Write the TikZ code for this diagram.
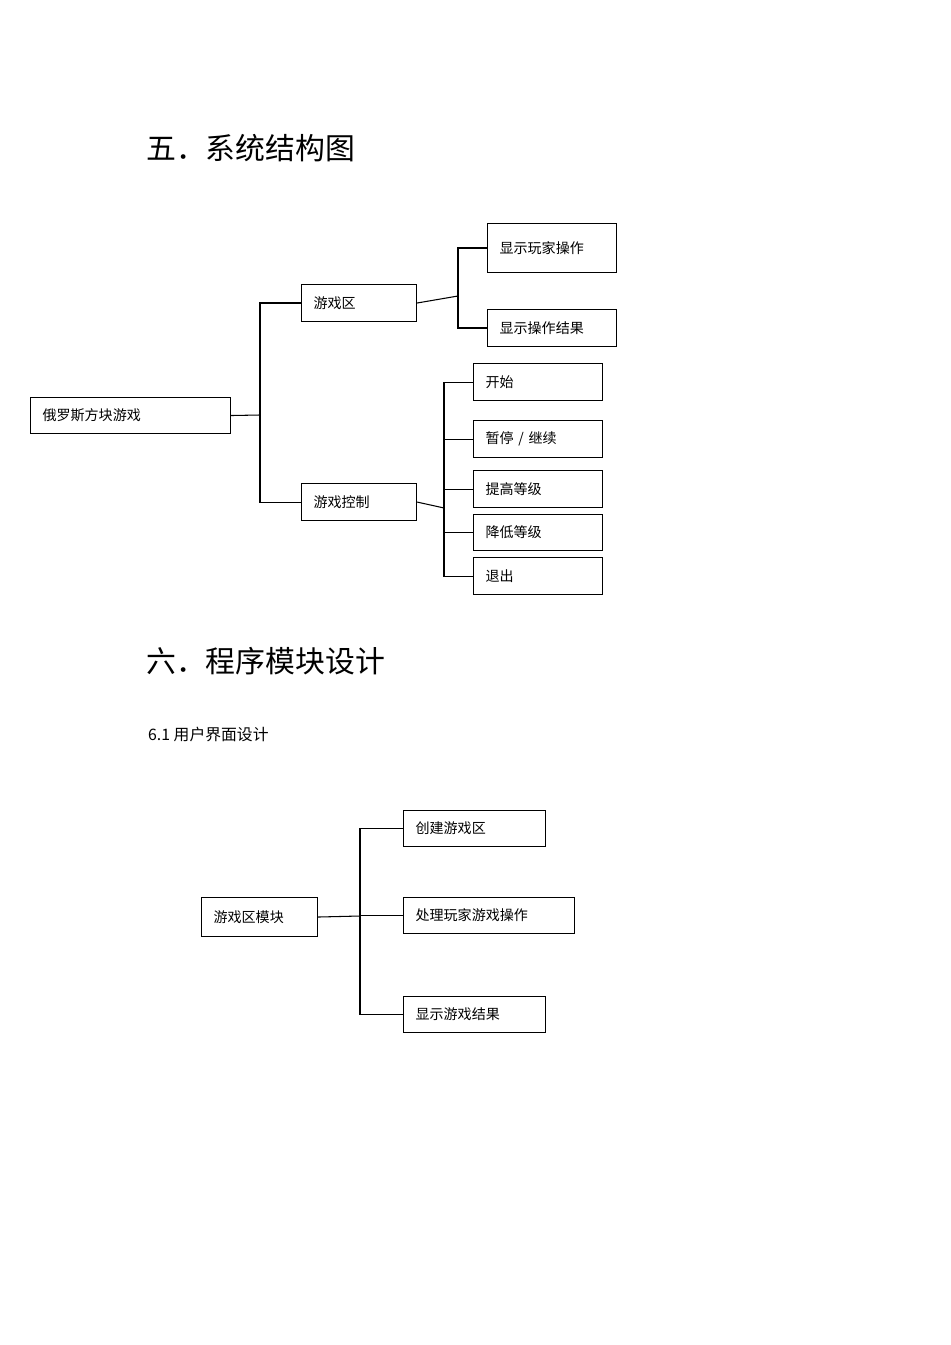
\documentclass[tikz,border=0pt]{standalone}
\usepackage{fontspec}
\setmainfont{Liberation Serif}
\newfontfamily\cjk{Noto Sans CJK SC}
\usetikzlibrary{positioning}
\tikzset{
  box/.style args={#1/#2}{draw, semithick, anchor=north west, inner xsep=0.24cm,
    inner ysep=0pt, text width=#1, minimum height=#2, font=\cjk\fontsize{8}{9}\selectfont},
  link/.style={draw, semithick}
}
\begin{document}
\begin{tikzpicture}[x=0.02cm, y=-0.02cm]
\useasboundingbox (0,0) rectangle (950,1345);
%Titles
\node[anchor=west, font=\cjk\fontsize{17}{20}\selectfont] (t5) at (140,148) {五．系统结构图};
\node[anchor=west, font=\cjk\fontsize{17}{20}\selectfont] (t6) at (140,661) {六．程序模块设计};
\node[anchor=west, font=\cjk\fontsize{9}{11}\selectfont] (t61) at (142,734) {6.1 用户界面设计};
%Structure chart
\node[box=3.52cm/0.72cm] (game) at (30,397) {俄罗斯方块游戏};
\node[box=1.82cm/0.74cm] (area) at (301,284) {游戏区};
\node[box=1.82cm/0.74cm] (ctrl) at (301,483) {游戏控制};
\node[box=2.1cm/0.98cm] (show) at (487,223) {显示玩家操作};
\node[box=2.1cm/0.74cm] (result) at (487,309) {显示操作结果};
\node[box=2.1cm/0.74cm] (start) at (473,363) {开始};
\node[box=2.1cm/0.74cm] (pause) at (473,420) {暂停 / 继续};
\node[box=2.1cm/0.74cm] (up) at (473,470) {提高等级};
\node[box=2.1cm/0.72cm] (down) at (473,514) {降低等级};
\node[box=2.1cm/0.74cm] (quit) at (473,557) {退出};
%Connectors
\coordinate (j1) at (260,415);
\draw[link] (game.east) -- (j1);
\draw[link] (j1) |- (area.west);
\draw[link] (j1) |- (ctrl.west);
\coordinate (j2) at (458,296);
\draw[link] (area.east) -- (j2);
\draw[link] (j2) |- (show.west);
\draw[link] (j2) |- (result.west);
\coordinate (j3) at (444,508);
\draw[link] (ctrl.east) -- (j3);
\foreach \n in {start,pause,up,down,quit}
  \draw[link] (j3) |- (\n.west);
%Module chart
\node[box=1.84cm/0.78cm] (mod) at (201,897) {游戏区模块};
\node[box=2.36cm/0.72cm] (create) at (403,810) {创建游戏区};
\node[box=2.94cm/0.72cm] (handle) at (403,897) {处理玩家游戏操作};
\node[box=2.36cm/0.72cm] (disp) at (403,996) {显示游戏结果};
\coordinate (j4) at (360,916);
\draw[link] (mod.east) -- (j4);
\foreach \n in {create,handle,disp}
  \draw[link] (j4) |- (\n.west);
\end{tikzpicture}
\end{document}
